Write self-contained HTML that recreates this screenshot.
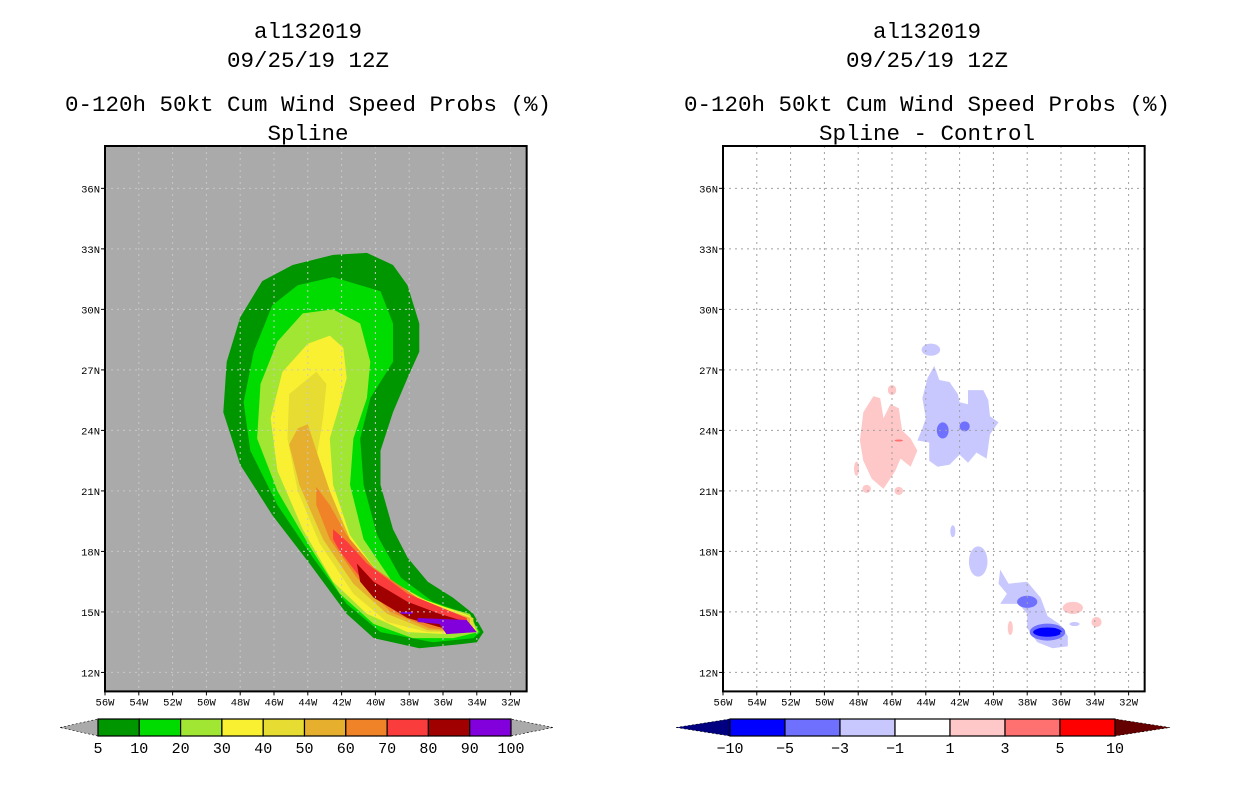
<!DOCTYPE html>
<html><head><meta charset="utf-8">
<style>
html,body{margin:0;padding:0;background:#fff;}
svg{display:block;}
text{font-family:"Liberation Mono",monospace;}
</style></head>
<body>
<svg id="fig" width="1236" height="800" viewBox="0 0 1236 800" xmlns="http://www.w3.org/2000/svg"></svg>
<script>
// ---- data ----
const lonTicks = [-56,-54,-52,-50,-48,-46,-44,-42,-40,-38,-36,-34,-32];
const latTicks = [12,15,18,21,24,27,30,33,36];
const probLevels = ["5","10","20","30","40","50","60","70","80","90","100"];
const probColors = ["#009600","#00dc00","#a0e632","#f8f030","#e6dc32","#e6af2d","#f08228","#fa3c3c","#a00000","#8200dc"];
const diffLevels = ["-10","-5","-3","-1","1","3","5","10"];
const diffColors = ["#0000ff","#7070ff","#c8c8ff","#ffffff","#ffc8c8","#ff7070","#ff0000"];
const lev5 = [[-40.5,32.8],[-38.96,32.2],[-38.1,31.2],[-37.4,29.3],[-37.4,27.9],[-38.1,26.6],[-38.96,24.9],[-39.7,23.0],[-39.7,21.3],[-38.96,19.1],[-38.1,17.7],[-36.9,16.5],[-35.4,15.7],[-34.2,14.9],[-33.6,14.0],[-34.0,13.5],[-35.0,13.4],[-37.4,13.2],[-40.1,13.7],[-41.7,14.9],[-43.9,17.4],[-46.1,19.8],[-48.0,22.3],[-49.0,24.9],[-48.8,27.4],[-48.0,29.6],[-46.7,31.4],[-44.9,32.2],[-42.5,32.7]];
const lev10 = [[-42.5,31.6],[-39.7,30.9],[-38.96,29.3],[-38.96,27.4],[-40.3,25.6],[-40.9,23.6],[-40.7,21.3],[-39.9,18.8],[-38.5,16.7],[-36.6,15.5],[-34.6,14.9],[-33.8,14.0],[-34.2,13.7],[-36.6,13.5],[-39.7,14.0],[-41.7,15.4],[-43.7,17.7],[-45.8,20.3],[-47.4,23.0],[-47.8,25.4],[-47.2,27.9],[-46.1,30.2],[-44.6,31.2]];
const lev20 = [[-42.5,30.0],[-40.9,29.3],[-40.3,27.4],[-40.5,25.6],[-41.3,23.6],[-41.5,21.3],[-40.7,18.6],[-39.0,16.5],[-36.6,15.4],[-34.4,14.9],[-33.9,14.0],[-35.4,13.7],[-37.8,13.7],[-40.1,14.4],[-42.1,15.9],[-44.0,18.4],[-45.8,21.0],[-47.0,23.6],[-46.8,26.3],[-45.8,28.4],[-44.3,29.8]];
const lev30 = [[-42.7,28.7],[-41.9,28.1],[-41.7,26.6],[-42.1,25.3],[-42.7,23.6],[-42.5,21.3],[-41.5,18.8],[-39.9,17.0],[-37.4,15.7],[-34.4,14.8],[-34.0,14.0],[-35.8,13.9],[-38.1,14.0],[-40.5,14.9],[-42.5,16.5],[-44.3,19.1],[-45.8,22.0],[-46.2,24.6],[-45.5,26.9],[-44.0,28.3]];
const lev40 = [[-43.5,26.9],[-42.9,26.3],[-43.1,24.6],[-43.5,22.6],[-42.7,20.3],[-41.5,18.3],[-39.7,16.5],[-36.9,15.4],[-34.2,14.7],[-34.2,14.0],[-36.9,14.0],[-39.3,14.5],[-41.3,15.9],[-43.3,18.4],[-44.6,21.0],[-45.2,23.6],[-45.1,25.8]];
const lev50 = [[-44.0,24.3],[-43.5,23.0],[-42.7,21.0],[-41.5,18.6],[-39.9,17.0],[-37.2,15.5],[-34.4,14.7],[-34.4,14.0],[-36.9,14.1],[-39.3,14.9],[-41.3,16.4],[-43.1,18.6],[-44.5,21.3],[-45.1,23.3],[-44.6,24.1]];
const lev60 = [[-43.5,21.2],[-42.7,20.3],[-41.7,18.8],[-40.1,17.2],[-37.5,15.7],[-34.6,14.7],[-34.6,14.0],[-36.8,14.2],[-39.1,15.0],[-41.1,16.7],[-42.7,18.6],[-43.5,20.3]];
const lev70 = [[-42.5,19.1],[-41.7,18.5],[-40.5,17.4],[-38.1,15.9],[-34.6,14.7],[-34.6,14.0],[-36.4,14.3],[-38.7,15.0],[-40.7,16.5],[-42.1,18.0],[-42.5,18.6]];
const lev80 = [[-41.1,17.4],[-40.1,16.5],[-38.1,15.5],[-36.2,14.9],[-34.6,14.5],[-34.4,14.0],[-36.0,14.2],[-38.1,14.7],[-40.1,15.7],[-40.9,16.5]];
const lev90a = [[-37.5,14.7],[-34.6,14.6],[-34.0,14.0],[-35.8,13.9],[-36.2,14.4],[-37.5,14.5]];
const lev90b = [[-38.5,15.0],[-37.8,15.0],[-37.8,14.9],[-38.5,14.9]];
const pinkMain = [[-47.1,25.7],[-46.7,25.6],[-46.5,24.6],[-46.1,25.3],[-45.6,25.1],[-45.4,24.0],[-44.9,23.6],[-44.5,23.0],[-44.9,22.2],[-45.5,22.6],[-45.8,22.0],[-46.5,21.1],[-47.2,21.6],[-47.7,22.5],[-47.9,23.5],[-47.7,24.9]];
const blueMain = [[-43.5,27.2],[-43.2,26.5],[-42.6,26.4],[-42.1,25.8],[-42.0,25.4],[-41.5,25.3],[-41.5,26.0],[-40.6,26.0],[-40.3,25.5],[-40.2,24.7],[-39.7,24.4],[-40.2,23.8],[-40.4,22.6],[-41.0,22.9],[-41.5,22.4],[-42.0,22.8],[-42.6,22.3],[-43.3,22.2],[-43.8,22.5],[-43.8,23.4],[-44.5,23.5],[-44.2,24.1],[-44.0,24.6],[-44.2,25.6],[-43.9,26.6]];
const blueLower = [[-39.6,17.1],[-39.1,16.4],[-38.0,16.5],[-37.2,15.7],[-36.8,14.8],[-36.1,14.4],[-35.6,13.8],[-35.6,13.3],[-36.5,13.2],[-37.4,13.5],[-38.0,14.2],[-38.0,14.9],[-38.5,15.4],[-39.6,15.4],[-39.2,15.9],[-39.7,16.4]];
// small blobs: lon, lat, rlon, rlat, level index into diffColors
const diffBlobs = [[-46.0,26.0,0.25,0.25,4],[-48.1,22.1,0.15,0.35,4],[-47.5,21.1,0.25,0.2,4],[-45.6,21.0,0.25,0.2,4],[-43.7,28.0,0.55,0.3,2],[-43.0,24.0,0.35,0.4,1],[-41.7,24.2,0.3,0.25,1],[-42.4,19.0,0.15,0.3,2],[-40.9,17.5,0.55,0.75,2],[-38.0,15.5,0.6,0.3,1],[-36.8,14.0,1.05,0.42,1],[-36.8,14.0,0.85,0.23,0],[-35.3,15.2,0.6,0.3,4],[-33.9,14.5,0.3,0.25,4],[-39.0,14.2,0.15,0.35,4],[-35.2,14.4,0.3,0.1,2],[-45.6,23.5,0.25,0.05,5]];

// ---- drawing ----
const NS='http://www.w3.org/2000/svg';
const svg=document.getElementById('fig');
function mk(tag,attrs,parent){const e=document.createElementNS(NS,tag);for(const k in attrs)e.setAttribute(k,attrs[k]);(parent||svg).appendChild(e);return e;}
const LAT_TOP=38.1, LAT_BOT=11.06, LON_L=-56, LON_R=-31.05, PXDEG_X=16.9, PXDEG_Y=20.17;
function panel(x0){
  return {x0:x0,
    X:lon=>x0+(lon-LON_L)*PXDEG_X,
    Y:lat=>146+(LAT_TOP-lat)*PXDEG_Y,
    w:(LON_R-LON_L)*PXDEG_X, h:(LAT_TOP-LAT_BOT)*PXDEG_Y};
}
function pathOf(p,pts){return 'M'+pts.map(q=>p.X(q[0]).toFixed(1)+','+p.Y(q[1]).toFixed(1)).join('L')+'Z';}
function titles(cx,sub){
  const lines=[["al132019",38,"title-storm-id"],["09/25/19 12Z",67,"title-date"],["0-120h 50kt Cum Wind Speed Probs (%)",111,"title-product"],[sub,140,"subtitle"]];
  lines.forEach(l=>{const t=mk('text',{x:cx,y:l[1],'text-anchor':'middle','font-size':'22.5',fill:'#000'});t.textContent=l[0];
    
    });
}
function axes(p,g,gridColor){
  lonTicks.forEach(lon=>{const x=p.X(lon);
    const gl=mk('line',{x1:x,y1:146,x2:x,y2:146+p.h,stroke:gridColor,'stroke-width':1,'stroke-dasharray':'2,4'},g);
    
    
    const tk=mk('line',{x1:x,y1:146+p.h,x2:x,y2:146+p.h+4,stroke:'#000','stroke-width':1},g);
    
    
    const t=mk('text',{x:x,y:146+p.h+14,'text-anchor':'middle','font-size':'10.5',fill:'#000'},g);t.textContent=(-lon)+'W';
    
    });
  latTicks.forEach(lat=>{const y=p.Y(lat);
    const gl=mk('line',{x1:p.x0,y1:y,x2:p.x0+p.w,y2:y,stroke:gridColor,'stroke-width':1,'stroke-dasharray':'2,4'},g);
    
    
    const tk=mk('line',{x1:p.x0-4,y1:y,x2:p.x0,y2:y,stroke:'#000','stroke-width':1},g);
    
    
    const t=mk('text',{x:p.x0-5,y:y+4,'text-anchor':'end','font-size':'10.5',fill:'#000'},g);t.textContent=lat+'N';
    
    });
  const fr=mk('rect',{x:p.x0,y:146,width:p.w,height:p.h,fill:'none',stroke:'#000','stroke-width':2},g);
  
  
}
function colorbar(x0,x1,tipL,tipR,colors,labels,endL,endR,name){
  const g=mk('g',{});
  
  
  const y0=719,y1=736,ym=(y0+y1)/2,bw=(x1-x0)/colors.length;
  const tl=mk('polygon',{points:`${tipL},${ym} ${x0},${y0} ${x0},${y1}`,fill:endL,stroke:'#000','stroke-width':0.6,'stroke-dasharray':'2,2'},g);
  
  
  const tr=mk('polygon',{points:`${tipR},${ym} ${x1},${y0} ${x1},${y1}`,fill:endR,stroke:'#000','stroke-width':0.6,'stroke-dasharray':'2,2'},g);
  
  
  colors.forEach((c,i)=>{const r=mk('rect',{x:x0+i*bw,y:y0,width:bw,height:y1-y0,fill:c,stroke:'#000','stroke-width':1.2},g);
    
    });
  labels.forEach((l,i)=>{const t=mk('text',{x:x0+i*bw,y:y1+17,'text-anchor':'middle','font-size':'15',fill:'#000'},g);t.textContent=l.replace('-','\u2212');
    
    });
}
// left panel
const pL=panel(105);
titles(308,"Spline");
const gL=mk('g',{});


const bg=mk('rect',{x:pL.x0,y:146,width:pL.w,height:pL.h,fill:'#aaaaaa'},gL);


const levs=[lev5,lev10,lev20,lev30,lev40,lev50,lev60,lev70,lev80,lev90a];
levs.forEach((pts,i)=>{const e=mk('path',{d:pathOf(pL,pts),fill:probColors[i]},gL);
  
  });
const e9=mk('path',{d:pathOf(pL,lev90b),fill:probColors[9]},gL);


axes(pL,gL,'#c8c8c8');
colorbar(98,511,60,553,probColors,probLevels,'#aaaaaa','#aaaaaa','prob-colorbar');
// right panel
const pR=panel(723);
titles(927,"Spline - Control");
const gR=mk('g',{});


const bgR=mk('rect',{x:pR.x0,y:146,width:pR.w,height:pR.h,fill:'#ffffff'},gR);


[[pinkMain,4,'diff-positive-area'],[blueMain,2,'diff-negative-area'],[blueLower,2,'diff-negative-area-south']].forEach(a=>{
  const e=mk('path',{d:pathOf(pR,a[0]),fill:diffColors[a[1]]},gR);
  
  });
diffBlobs.forEach(b=>{const e=mk('ellipse',{cx:pR.X(b[0]),cy:pR.Y(b[1]),rx:b[2]*PXDEG_X,ry:b[3]*PXDEG_Y,fill:diffColors[b[4]]},gR);
  
  });
axes(pR,gR,'#a0a0a0');
colorbar(730,1115,676,1170,diffColors,diffLevels,'#000080','#640000','diff-colorbar');
</script>
</body></html>
